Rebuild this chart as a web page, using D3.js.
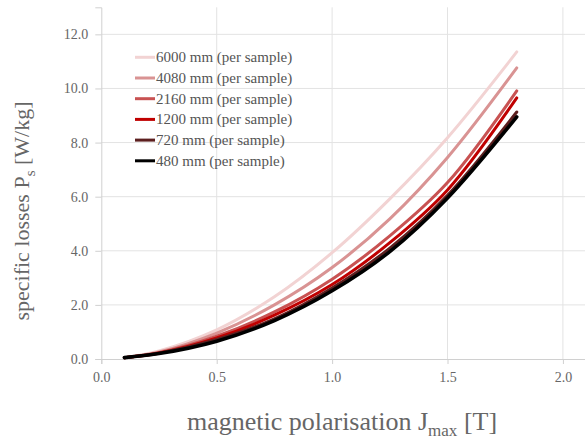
<!DOCTYPE html>
<html>
<head>
<meta charset="utf-8">
<script src="https://cdn.jsdelivr.net/npm/d3@7"></script>
<style>
  body { margin: 0; background: #fff; }
  svg { display: block; font-family: "Liberation Serif", "DejaVu Serif", serif; }
</style>
</head>
<body>
<div id="wrapper"></div>
<script>
// data
const polarisation = [0.1, 0.25, 0.5, 0.75, 1.0, 1.25, 1.5, 1.8];
const sampleLabels = ['6000 mm (per sample)', '4080 mm (per sample)', '2160 mm (per sample)',
    '1200 mm (per sample)', '720 mm (per sample)', '480 mm (per sample)'];
const seriesColors = ['#f2d3d3', '#d99393', '#c85252', '#c00000', '#5c1f1f', '#000000'];
const loss6000 = [0.05, 0.30, 1.08, 2.30, 3.93, 5.92, 8.18, 11.35];
const loss4080 = [0.05, 0.26, 0.96, 2.00, 3.38, 5.18, 7.45, 10.76];
const loss2160 = [0.05, 0.23, 0.84, 1.74, 2.95, 4.55, 6.52, 9.91];
const loss1200 = [0.05, 0.22, 0.78, 1.62, 2.75, 4.30, 6.25, 9.65];
const loss720 = [0.05, 0.21, 0.72, 1.48, 2.62, 4.10, 6.05, 9.13];
const loss480 = [0.05, 0.20, 0.66, 1.42, 2.52, 3.97, 5.95, 8.95];
const xTicks = [0, 0.5, 1.0, 1.5, 2.0];
const yTicks = [0, 2, 4, 6, 8, 10, 12];

const seriesLosses = [loss6000, loss4080, loss2160, loss1200, loss720, loss480];

const width = 585;
const height = 443;

const svg = d3.select('#wrapper')
    .append('svg')
    .attr('width', width)
    .attr('height', height);

const x = d3.scaleLinear().domain([0, 2.1]).range([101.3, 586]);
const y = d3.scaleLinear().domain([0, 13]).range([359, 7.3]);

// grid
svg.append('g')
    .selectAll('line')
    .data(yTicks.slice(1))
    .join('line')
    .attr('x1', x(0)).attr('x2', width)
    .attr('y1', d => y(d)).attr('y2', d => y(d))
    .attr('stroke', '#e3e3e3');

svg.append('g')
    .selectAll('line')
    .data(xTicks.slice(1))
    .join('line')
    .attr('x1', d => x(d)).attr('x2', d => x(d))
    .attr('y1', y(0)).attr('y2', y(13))
    .attr('stroke', '#e3e3e3');

// axes
const xAxis = svg.append('g')
    .attr('transform', `translate(0,${y(0)})`)
    .call(d3.axisBottom(x).tickValues(xTicks).tickFormat(d3.format('.1f')).tickSize(5).tickPadding(8));

const yAxis = svg.append('g')
    .attr('transform', `translate(${x(0)},0)`)
    .call(d3.axisLeft(y).tickValues(yTicks).tickFormat(d3.format('.1f')).tickSize(6).tickPadding(7));

[xAxis, yAxis].forEach(a => {
    a.select('.domain').attr('stroke', '#d0d0d0');
    a.selectAll('.tick line').attr('stroke', '#d0d0d0');
    a.selectAll('.tick text')
        .attr('fill', '#666')
        .style('font-family', '"Liberation Serif", serif')
        .style('font-size', '14px');
});

// curves
const line = d3.line()
    .x((d, i) => x(polarisation[i]))
    .y(d => y(d))
    .curve(d3.curveCatmullRom.alpha(0.5));

svg.append('g')
    .selectAll('path')
    .data(seriesLosses)
    .join('path')
    .attr('d', line)
    .attr('fill', 'none')
    .attr('stroke', (d, i) => seriesColors[i])
    .attr('stroke-width', (d, i) => i === 5 ? 3.6 : 3)
    .attr('stroke-linecap', 'round');

// legend
const legend = svg.append('g');
const rows = legend.selectAll('g')
    .data(sampleLabels)
    .join('g')
    .attr('transform', (d, i) => `translate(135,${57.3 + i * 20.7})`);

rows.append('line')
    .attr('x1', 0).attr('x2', 20)
    .attr('stroke', (d, i) => seriesColors[i])
    .attr('stroke-width', 3);

rows.append('text')
    .attr('x', 21)
    .attr('y', 5)
    .attr('fill', '#555')
    .style('font-size', '15px')
    .text(d => d);

// axis titles
const xTitle = svg.append('text')
    .attr('x', 342)
    .attr('y', 430)
    .attr('text-anchor', 'middle')
    .attr('fill', '#666')
    .style('font-size', '26px');
xTitle.append('tspan').text('magnetic polarisation J');
xTitle.append('tspan').attr('dy', 6).style('font-size', '17px').text('max');
xTitle.append('tspan').attr('dy', -6).text(' [T]');

const yTitle = svg.append('text')
    .attr('transform', 'translate(29,211) rotate(-90)')
    .attr('text-anchor', 'middle')
    .attr('fill', '#666')
    .style('font-size', '22px');
yTitle.append('tspan').text('specific losses P');
yTitle.append('tspan').attr('dy', 6).style('font-size', '15px').text('s');
yTitle.append('tspan').attr('dy', -6).text(' [W/kg]');
</script>
</body>
</html>
